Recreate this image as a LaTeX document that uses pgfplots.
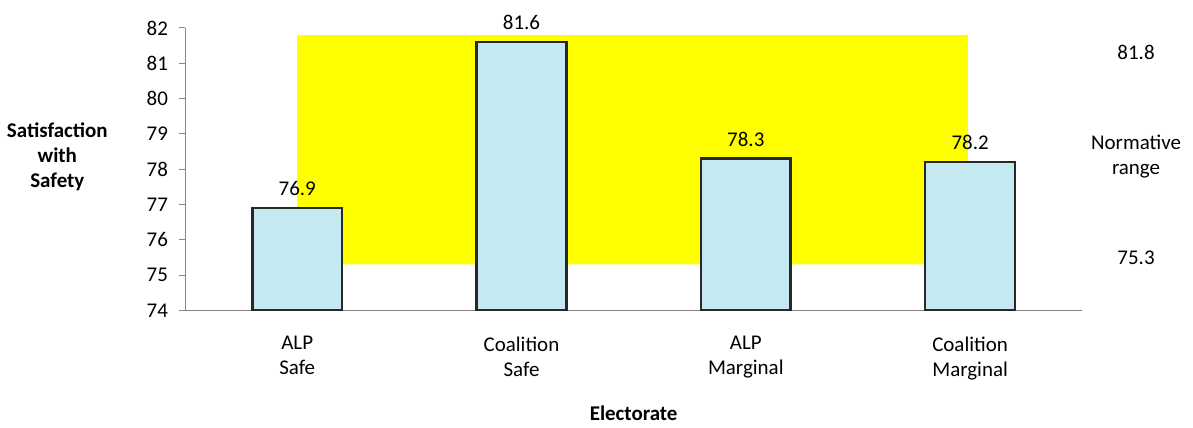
\documentclass[border=0pt]{standalone}
\usepackage{pgfplots}
\pgfplotsset{compat=1.18}
\usepackage{fontspec}
\setmainfont{Carlito}
\definecolor{barblue}{RGB}{197,233,241}
\definecolor{axgray}{RGB}{134,134,134}
\definecolor{bardark}{RGB}{40,40,40}
\definecolor{normyellow}{RGB}{255,255,0}
\begin{document}
\fontsize{21}{25}\selectfont
\begin{tikzpicture}
\begin{axis}[
  name=ax,
  scale only axis,
  width=899pt, height=283pt,
  xmin=-0.5, xmax=3.5,
  ymin=74, ymax=82,
  ytick={74,75,...,82},
  clip mode=individual,
  axis x line*=bottom, axis y line*=left,
  axis line style={axgray, line width=1pt},
  every tick/.style={axgray, line width=1pt},
  tick align=outside,
  major tick length=6pt,
  xtick={0,1,2,3},
  xticklabels={{ALP\\Safe},{Coalition\\Safe},{ALP\\Marginal},{Coalition\\Marginal}},
  xticklabel style={align=center, yshift=-13pt},
  x tick style={draw=none},
  extra x ticks={-0.5,0.5,1.5,2.5,3.5},
  extra x tick labels={},
  extra x tick style={tick style={draw=axgray, line width=1pt}},
  /pgf/number format/assume math mode=true,
  tick label style={font=\fontsize{21}{25}\selectfont},
  yticklabel style={xshift=-4pt},
  xlabel={\bfseries Electorate},
  xlabel style={font=\fontsize{21}{25}\selectfont, yshift=0pt},
]
\addplot[fill=normyellow, draw=none, sharp plot] coordinates {(0,75.3) (2.99,75.3) (2.99,81.8) (0,81.8)} \closedcycle;
\addplot[ybar, bar width=0.4, fill=barblue, draw=bardark, line width=2.5pt,
  nodes near coords,
  nodes near coords style={font=\fontsize{21}{25}\selectfont, /pgf/number format/fixed, /pgf/number format/precision=1, /pgf/number format/fixed zerofill, yshift=4pt, black}]
  coordinates {(0,76.9) (1,81.6) (2,78.3) (3,78.2)};
\node[font=\fontsize{21}{25}\selectfont] at (axis cs:3.74,81.32) {81.8};
\node[font=\fontsize{21}{25}\selectfont, align=center] at (axis cs:3.74,78.36) {Normative\\range};
\node[font=\fontsize{21}{25}\selectfont] at (axis cs:3.74,75.5) {75.3};
\node[font=\fontsize{21}{25}\selectfont\bfseries, align=center] at ([xshift=-128pt]rel axis cs:0,0.544) {Satisfaction\\with\\Safety};
\end{axis}
\path ([xshift=-183pt,yshift=28pt]ax.north west) ([xshift=111pt,yshift=-117pt]ax.south east);
\end{tikzpicture}
\end{document}
